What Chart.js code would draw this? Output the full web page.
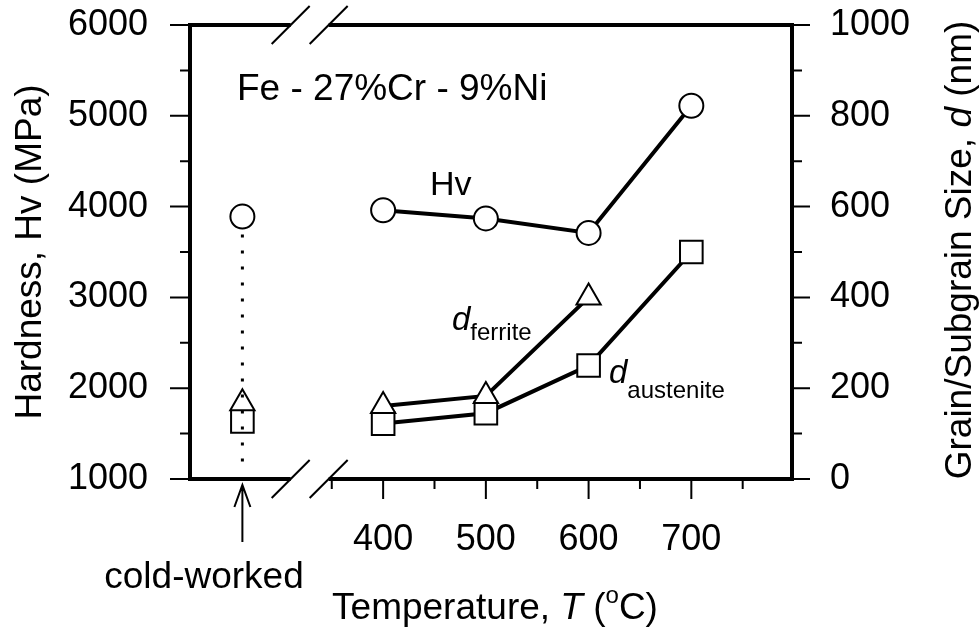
<!DOCTYPE html>
<html>
<head>
<meta charset="utf-8">
<script src="https://cdn.jsdelivr.net/npm/chart.js@4.4.0/dist/chart.umd.min.js"></script>
<style>
  html, body { margin: 0; padding: 0; background: #fff; }
  #wrap { width: 980px; height: 629px; }
</style>
</head>
<body>
<div id="wrap"><canvas id="hvChart"></canvas></div>
<script>
const FONT = '"Liberation Sans", Arial, sans-serif';

// annealing temperatures (°C)
const temps = [400, 500, 600, 700];
const tempsFerrite = [400, 500, 600];
// Vickers hardness, MPa (left axis)
const hv = [3960, 3870, 3710, 5110];
// grain / subgrain size, nm (right axis)
const dFerrite = [161, 183, 400];
const dAustenite = [122, 145, 250, 500];
// cold-worked state, placed left of the axis break
const coldX = 263;
const coldHv = 3890;
const coldFerrite = 167;
const coldAustenite = 127;

// axis ticks
const xTicks = [350, 400, 450, 500, 550, 600, 650, 700, 750];
const xLabels = [400, 500, 600, 700];
const breakAt = 310; // temperature where the axis is broken

const black = '#000';

function pts(xs, ys) {
  return xs.map((x, i) => ({ x: x, y: ys[i] }));
}

function marker(style, r) {
  return {
    pointStyle: style,
    pointRadius: r,
    pointHoverRadius: r,
    pointBorderWidth: 2,
    pointBorderColor: black,
    pointBackgroundColor: '#fff',
    borderColor: black,
    borderWidth: 4,
    tension: 0
  };
}

// text with mixed fonts, drawn left to right
function runs(ctx, parts, x, y, align) {
  let total = 0;
  parts.forEach(p => { ctx.font = p.font; p.w = ctx.measureText(p.text).width; total += p.w; });
  let cx = align === 'center' ? x - total / 2 : x;
  parts.forEach(p => {
    ctx.font = p.font;
    ctx.fillText(p.text, cx, y + (p.dy || 0));
    cx += p.w;
  });
}

// no extra room for end labels: keep the plot box where it is
function noPad(s) {
  s.paddingTop = 0; s.paddingBottom = 0; s.paddingLeft = 0; s.paddingRight = 0;
}

const frame = {
  id: 'frame',
  afterDatasetsDraw(chart) {
    const ctx = chart.ctx;
    const a = chart.chartArea;
    const xs = chart.scales.x, yl = chart.scales.y, yr = chart.scales.y2;
    ctx.save();
    ctx.strokeStyle = black;
    ctx.fillStyle = black;
    ctx.lineCap = 'butt';

    // dotted guide below the cold-worked hardness point
    const cx = xs.getPixelForValue(coldX);
    ctx.lineWidth = 3;
    ctx.setLineDash([3, 13]);
    ctx.beginPath();
    ctx.moveTo(cx, yl.getPixelForValue(coldHv) + 18);
    ctx.lineTo(cx, a.bottom - 12);
    ctx.stroke();
    ctx.setLineDash([]);

    // frame
    ctx.lineWidth = 4;
    ctx.beginPath();
    ctx.moveTo(a.left, a.top); ctx.lineTo(a.left, a.bottom);
    ctx.moveTo(a.right, a.top); ctx.lineTo(a.right, a.bottom);
    ctx.moveTo(a.left - 2, a.top); ctx.lineTo(a.right + 2, a.top);
    ctx.moveTo(a.left - 2, a.bottom); ctx.lineTo(a.right + 2, a.bottom);
    ctx.stroke();

    // tick marks
    ctx.lineWidth = 2;
    ctx.beginPath();
    yl.ticks.forEach(t => {
      const p = yl.getPixelForValue(t.value);
      const len = t.value % 1000 === 0 ? 20 : 10;
      ctx.moveTo(a.left, p); ctx.lineTo(a.left - len, p);
    });
    yr.ticks.forEach(t => {
      const p = yr.getPixelForValue(t.value);
      const len = t.value % 200 === 0 ? 18 : 10;
      ctx.moveTo(a.right, p); ctx.lineTo(a.right + len, p);
    });
    xs.ticks.forEach(t => {
      const p = xs.getPixelForValue(t.value);
      const len = t.value % 100 === 0 ? 20 : 10;
      ctx.moveTo(p, a.bottom); ctx.lineTo(p, a.bottom + len);
    });
    ctx.stroke();

    // axis break on top and bottom
    const bx = xs.getPixelForValue(breakAt);
    [a.top, a.bottom].forEach(y => {
      ctx.fillStyle = '#fff';
      ctx.fillRect(bx, y - 4, 38, 8);
      ctx.beginPath();
      ctx.moveTo(bx - 19, y + 19); ctx.lineTo(bx + 19, y - 19);
      ctx.moveTo(bx + 19, y + 19); ctx.lineTo(bx + 57, y - 19);
      ctx.stroke();
    });
    ctx.fillStyle = black;

    // arrow for cold-worked
    ctx.beginPath();
    ctx.moveTo(cx, a.bottom + 63); ctx.lineTo(cx, a.bottom + 6);
    ctx.moveTo(cx - 8, a.bottom + 28); ctx.lineTo(cx, a.bottom + 6); ctx.lineTo(cx + 8, a.bottom + 28);
    ctx.stroke();

    // texts
    const f = (s, st) => (st || '') + ' ' + s + 'px ' + FONT;
    ctx.textBaseline = 'alphabetic';
    ctx.font = f(37);
    ctx.textAlign = 'center';
    ctx.fillText('cold-worked', 204, 588);
    ctx.textAlign = 'left';
    ctx.font = f(37);
    ctx.fillText('Fe - 27%Cr - 9%Ni', 237, 100);
    ctx.font = f(34);
    ctx.fillText('Hv', 430, 195);

    runs(ctx, [{ text: 'd', font: f(33, 'italic') }, { text: 'ferrite', font: f(24), dy: 10 }], 452, 330);
    runs(ctx, [{ text: 'd', font: f(33, 'italic') }, { text: 'austenite', font: f(24), dy: 15 }], 609, 383);

    runs(ctx, [
      { text: 'Temperature, ', font: f(37) },
      { text: 'T', font: f(37, 'italic') },
      { text: ' (', font: f(37) },
      { text: 'o', font: f(24), dy: -16 },
      { text: 'C)', font: f(37) }
    ], 495, 619, 'center');

    ctx.save();
    ctx.translate(28, (a.top + a.bottom) / 2);
    ctx.rotate(-Math.PI / 2);
    runs(ctx, [{ text: 'Hardness, Hv (MPa)', font: f(37) }], 0, 13, 'center');
    ctx.restore();

    ctx.save();
    ctx.translate(958, (a.top + a.bottom) / 2 - 2);
    ctx.rotate(-Math.PI / 2);
    runs(ctx, [
      { text: 'Grain/Subgrain Size, ', font: f(37) },
      { text: 'd', font: f(37, 'italic') },
      { text: ' (nm)', font: f(37) }
    ], 0, 13, 'center');
    ctx.restore();

    ctx.restore();
  }
};

const tickFont = { family: FONT, size: 36 };

new Chart(document.getElementById('hvChart'), {
  type: 'line',
  data: {
    datasets: [
      Object.assign({ label: 'Hv', data: pts(temps, hv), yAxisID: 'y' }, marker('circle', 12)),
      Object.assign({ label: 'd ferrite', data: pts(tempsFerrite, dFerrite), yAxisID: 'y2' }, marker('triangle', 14)),
      Object.assign({ label: 'd austenite', data: pts(temps, dAustenite), yAxisID: 'y2' }, marker('rect', 16)),
      Object.assign({ label: 'Hv cold-worked', data: [{ x: coldX, y: coldHv }], yAxisID: 'y', showLine: false }, marker('circle', 12)),
      Object.assign({ label: 'd ferrite cold-worked', data: [{ x: coldX, y: coldFerrite }], yAxisID: 'y2', showLine: false }, marker('triangle', 14)),
      Object.assign({ label: 'd austenite cold-worked', data: [{ x: coldX, y: coldAustenite }], yAxisID: 'y2', showLine: false }, marker('rect', 16))
    ]
  },
  options: {
    responsive: true,
    maintainAspectRatio: false,
    animation: false,
    events: [],
    layout: { padding: { top: 25, left: 0, right: 0, bottom: 0 } },
    plugins: {
      legend: { display: false },
      tooltip: { enabled: false }
    },
    scales: {
      x: {
        type: 'linear',
        min: 212,
        max: 798,
        afterBuildTicks: s => { s.ticks = xTicks.map(v => ({ value: v })); },
        afterFit: s => { s.height = 150; noPad(s); },
        grid: { display: false },
        border: { display: false },
        ticks: {
          autoSkip: false,
          maxRotation: 0,
          padding: 31,
          color: black,
          font: tickFont,
          callback: v => xLabels.includes(v) ? String(v) : ''
        }
      },
      y: {
        position: 'left',
        min: 1000,
        max: 6000,
        afterFit: s => { s.width = 190; noPad(s); },
        grid: { display: false },
        border: { display: false },
        ticks: {
          stepSize: 500,
          autoSkip: false,
          padding: 34,
          color: black,
          font: tickFont,
          callback: v => v % 1000 === 0 ? String(v) : ''
        }
      },
      y2: {
        position: 'right',
        min: 0,
        max: 1000,
        afterFit: s => { s.width = 188; noPad(s); },
        grid: { display: false },
        border: { display: false },
        ticks: {
          stepSize: 100,
          autoSkip: false,
          padding: 30,
          color: black,
          font: tickFont,
          callback: v => v % 200 === 0 ? String(v) : ''
        }
      }
    }
  },
  plugins: [frame]
});
</script>
</body>
</html>
